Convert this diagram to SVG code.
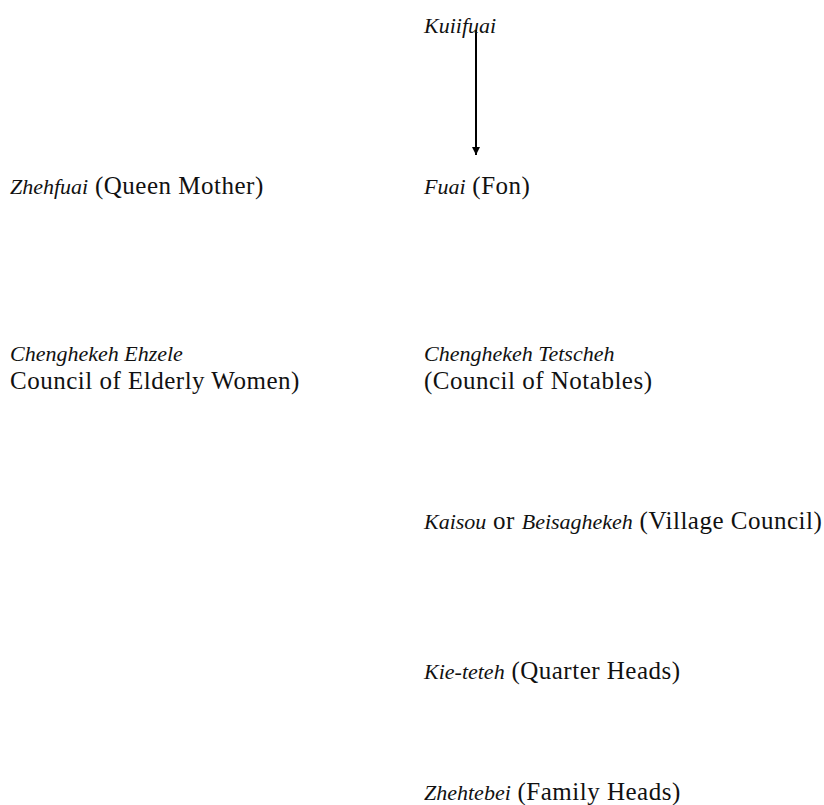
<svg xmlns="http://www.w3.org/2000/svg" width="824" height="805" viewBox="0 0 824 805">
<style>
text{font-family:"Liberation Serif","Times New Roman",serif;font-size:25px;letter-spacing:0.5px;fill:#111}
.i{font-style:italic;font-size:22px;letter-spacing:0}
.c{stroke:#000;stroke-width:2;fill:none}
</style>
<defs>
<marker id="ah" markerWidth="10" markerHeight="10" refX="8" refY="5" orient="auto" markerUnits="userSpaceOnUse">
<path d="M0,1 L8,5 L0,9 Z" fill="#000"/>
</marker>
</defs>
<rect width="824" height="805" fill="#fff"/>
<g id="connectors">
<line class="c" x1="476" y1="30" x2="476" y2="155" marker-end="url(#ah)"/>
</g>
<g id="kuiifuai"><text x="424" y="33" class="i">Kuiifuai</text></g>
<g id="zhehfuai"><text x="10" y="194"><tspan class="i">Zhehfuai</tspan> (Queen Mother)</text></g>
<g id="fuai"><text x="424" y="194"><tspan class="i">Fuai</tspan> (Fon)</text></g>
<g id="ehzele"><text x="10" y="361" class="i">Chenghekeh Ehzele</text><text x="10" y="389">Council of  Elderly Women)</text></g>
<g id="tetscheh"><text x="424" y="361" class="i">Chenghekeh Tetscheh</text><text x="424" y="389">(Council of Notables)</text></g>
<g id="kaisou"><text x="424" y="529"><tspan class="i">Kaisou</tspan> or <tspan class="i">Beisaghekeh</tspan> (Village Council)</text></g>
<g id="kieteteh"><text x="424" y="679"><tspan class="i">Kie-teteh</tspan> (Quarter Heads)</text></g>
<g id="zhehtebei"><text x="424" y="800"><tspan class="i">Zhehtebei</tspan> (Family Heads)</text></g>
</svg>
